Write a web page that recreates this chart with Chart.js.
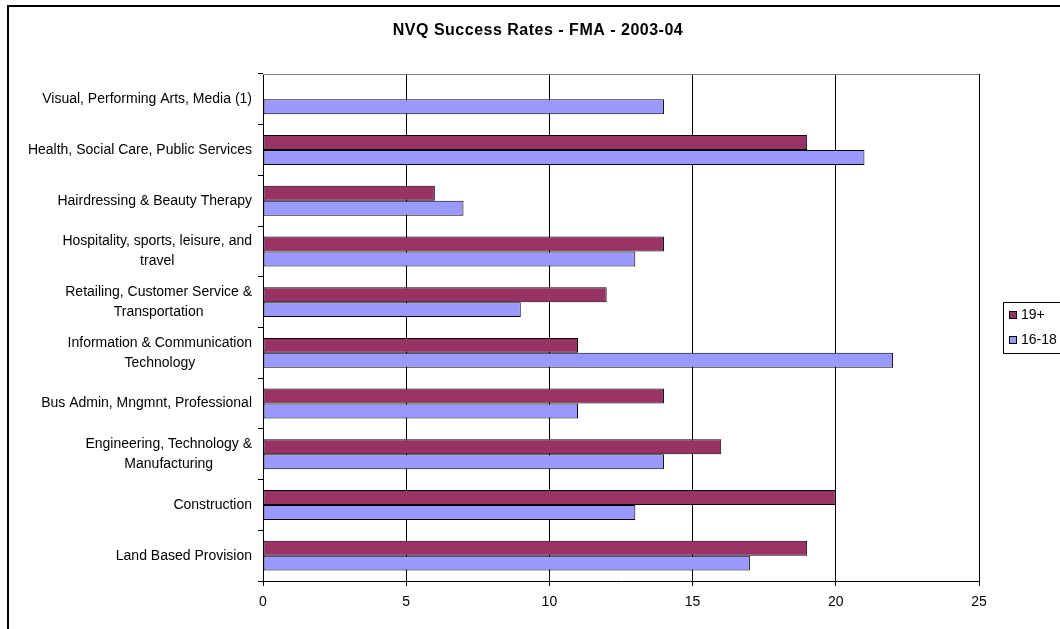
<!DOCTYPE html>
<html>
<head>
<meta charset="utf-8">
<title>NVQ Success Rates - FMA - 2003-04</title>
<script src="https://cdn.jsdelivr.net/npm/chart.js@4/dist/chart.umd.min.js"></script>
<style>
  html, body { margin: 0; padding: 0; background: #ffffff; }
  #wrap { width: 1060px; height: 629px; position: relative; }
</style>
</head>
<body>
<div id="wrap"><canvas id="chart" width="1060" height="629"></canvas></div>
<script>
// Sector areas, listed top to bottom
const categories = [
  ["Visual, Performing Arts, Media (1)"],
  ["Health, Social Care, Public Services"],
  ["Hairdressing & Beauty Therapy"],
  ["Hospitality, sports, leisure, and", "travel"],
  ["Retailing, Customer Service &", "Transportation"],
  ["Information & Communication", "Technology"],
  ["Bus Admin, Mngmnt, Professional"],
  ["Engineering, Technology &", "Manufacturing"],
  ["Construction"],
  ["Land Based Provision"]
];

// Success rates by age group
const age19plus = [null, 19, 6, 14, 12, 11, 14, 16, 20, 19];
const age16to18 = [14, 21, 7, 13, 9, 22, 11, 14, 13, 17];

const seriesNames = ["19+", "16-18"];
const seriesColors = ["#993366", "#9999FF"];
const xTickValues = [0, 5, 10, 15, 20, 25];
const chartTitle = "NVQ Success Rates - FMA - 2003-04";

const FONT = '"Liberation Sans", Arial, Helvetica, sans-serif';

// Frame, title, legend and wrapped category labels drawn around the chart area
const decorations = {
  id: 'decorations',
  beforeDraw(chart) {
    const ctx = chart.ctx;
    ctx.save();
    ctx.fillStyle = '#ffffff';
    ctx.fillRect(0, 0, chart.width, chart.height);
    ctx.restore();
  },
  afterDraw(chart) {
    const ctx = chart.ctx;
    const area = chart.chartArea;
    ctx.save();

    // outer frame
    ctx.strokeStyle = '#000000';
    ctx.lineWidth = 2;
    ctx.strokeRect(8, 6, 1200, 800);

    // top edge of the plot area
    ctx.strokeStyle = '#808080';
    ctx.lineWidth = 1;
    ctx.beginPath();
    ctx.moveTo(area.left, Math.round(area.top) + 0.5);
    ctx.lineTo(area.right, Math.round(area.top) + 0.5);
    ctx.stroke();

    // title
    ctx.fillStyle = '#000000';
    ctx.font = 'bold 16px ' + FONT;
    if ('letterSpacing' in ctx) ctx.letterSpacing = '0.5px';
    ctx.textAlign = 'center';
    ctx.textBaseline = 'middle';
    ctx.fillText(chartTitle, 538, 31);
    if ('letterSpacing' in ctx) ctx.letterSpacing = '0px';

    // category labels: each block right-aligned, lines centred within it
    const yScale = chart.scales.y;
    ctx.font = '14px ' + FONT;
    ctx.textBaseline = 'middle';
    ctx.textAlign = 'center';
    const rightEdge = 252;
    const lineH = 20;
    categories.forEach((lines, i) => {
      const cy = yScale.getPixelForValue(i);
      const w = Math.max(...lines.map(l => ctx.measureText(l).width));
      const cx = rightEdge - w / 2;
      const y0 = cy - (lines.length - 1) * lineH / 2;
      lines.forEach((l, j) => ctx.fillText(l, cx, y0 + j * lineH));
    });

    // legend
    ctx.strokeStyle = '#000000';
    ctx.lineWidth = 1;
    ctx.strokeRect(1003.5, 302.5, 120, 51);
    ctx.font = '14px ' + FONT;
    ctx.textAlign = 'left';
    const rows = [315, 340];
    seriesNames.forEach((name, i) => {
      const y = rows[i];
      ctx.fillStyle = seriesColors[i];
      ctx.fillRect(1009.5, y - 3.5, 7, 7);
      ctx.strokeStyle = '#000000';
      ctx.strokeRect(1009.5, y - 3.5, 7, 7);
      ctx.fillStyle = '#000000';
      ctx.fillText(name, 1021, y);
    });

    ctx.restore();
  }
};

new Chart(document.getElementById('chart'), {
  type: 'bar',
  data: {
    labels: categories.map(c => c.join(' ')),
    datasets: [
      {
        label: seriesNames[0],
        data: age19plus,
        backgroundColor: seriesColors[0],
        borderColor: '#000000',
        borderWidth: 1,
        borderSkipped: false,
        barPercentage: 1,
        categoryPercentage: 0.59
      },
      {
        label: seriesNames[1],
        data: age16to18,
        backgroundColor: seriesColors[1],
        borderColor: '#000000',
        borderWidth: 1,
        borderSkipped: false,
        barPercentage: 1,
        categoryPercentage: 0.59
      }
    ]
  },
  options: {
    indexAxis: 'y',
    responsive: false,
    animation: false,
    devicePixelRatio: 1,
    layout: { padding: { top: 74, right: 81, bottom: 0, left: 0 } },
    plugins: {
      legend: { display: false },
      title: { display: false },
      tooltip: { enabled: false }
    },
    scales: {
      x: {
        min: 0,
        max: 25,
        afterBuildTicks: s => { s.ticks = xTickValues.map(v => ({ value: v })); },
        afterFit: s => { s.height = 48; },
        ticks: {
          color: '#000000',
          font: { family: FONT, size: 14 },
          padding: 8,
          maxRotation: 0
        },
        grid: { color: '#000000', lineWidth: 1, tickLength: 5, drawTicks: true },
        border: { color: '#000000', width: 1 }
      },
      y: {
        afterFit: s => { s.width = 263; },
        ticks: { display: false },
        grid: { offset: true, drawOnChartArea: false, drawTicks: true, tickLength: 5, color: '#000000' },
        border: { color: '#000000', width: 1 }
      }
    }
  },
  plugins: [decorations]
});
</script>
</body>
</html>
